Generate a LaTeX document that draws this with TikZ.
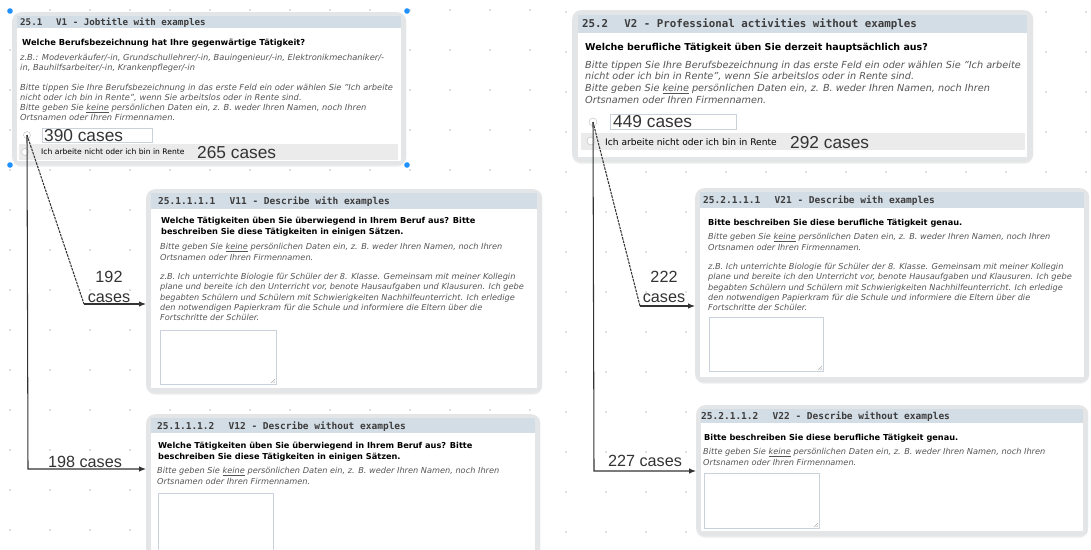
\documentclass[tikz,border=0pt]{standalone}
\usepackage{fontspec}
\setmainfont{DejaVu Sans}
\setmonofont{DejaVu Sans Mono}
\newfontfamily\cntfont{Liberation Sans}
\usetikzlibrary{arrows.meta,positioning,calc,shadows}
\definecolor{framegray}{HTML}{E3E5E7}
\definecolor{headblue}{HTML}{D3DDE6}
\definecolor{headtext}{HTML}{3C3C3C}
\definecolor{notegray}{HTML}{555555}
\definecolor{rowgray}{HTML}{EBEBEB}
\definecolor{dotgray}{HTML}{C2C2C2}
\definecolor{selblue}{HTML}{1E90FF}
\definecolor{fieldline}{HTML}{C9D2DA}
\definecolor{cnttext}{HTML}{333333}

\begin{document}
\begin{tikzpicture}[x=1pt,y=-1pt,
    frame/.style={fill=framegray, rounded corners=9pt, inner sep=0pt, anchor=north west,
      drop shadow={shadow xshift=0pt, shadow yshift=-1.5pt, opacity=0.15}},
    head/.style={font=\ttfamily\bfseries\fontsize{9.5}{11}\selectfont, text=headtext, anchor=base west, inner sep=0pt},
    ques/.style={font=\bfseries\fontsize{8.2}{11.5}\selectfont, anchor=base west, inner sep=0pt, align=left},
    note/.style={font=\itshape\fontsize{8.2}{10.3}\selectfont, text=notegray, anchor=north west, inner sep=0pt, align=left},
    radio/.style={circle, draw=gray!55, fill=white, minimum size=7pt, inner sep=0pt},
    cnt/.style={font=\cntfont\fontsize{17.3}{17}\selectfont, text=cnttext, anchor=west, inner sep=0pt},
    small/.style={font=\fontsize{7.6}{9}\selectfont, anchor=west, inner sep=0pt},
    lbl/.style={font=\cntfont\fontsize{16.2}{19.5}\selectfont, text=cnttext, inner sep=0pt},
    link/.style={draw=black!80, line width=1.05pt}]
    \useasboundingbox (0,0) rectangle (1091,549);
    \clip (0,0) rectangle (1091,549);
    \fill[white] (0,0) rectangle (1091,549);

    % dot grid
    \foreach \gx in {10,50,...,530}
        \foreach \gy in {10,50,...,530}
            \fill[dotgray] (\gx,\gy) circle (0.8pt);
    \foreach \gx in {566,606,...,1086}
        \foreach \gy in {12,52,...,532}
            \fill[dotgray] (\gx,\gy) circle (0.8pt);

    % V1
    \node[frame, minimum width=394pt, minimum height=153pt] (v1) at (12,12) {};
    \fill[white] ($(v1.north west)+(5,16)$) rectangle ($(v1.south east)+(-5,-4)$);
    \fill[headblue] ($(v1.north west)+(5,3.5)$) rectangle ($(v1.north east)+(-5,16)$);
    \node[head, font=\ttfamily\bfseries\fontsize{9.2}{11}\selectfont] (h1) at (20,25) {25.1\hspace{1.5em}V1 - Jobtitle with examples};
    \node[ques, font=\bfseries\fontsize{8.3}{11}\selectfont] (q1) at (22,45) {Welche Berufsbezeichnung hat Ihre gegenwärtige Tätigkeit?};
    \node[note, font=\itshape\fontsize{8.3}{10}\selectfont] (n1) at (20,53.7) {z.B.: Modeverkäufer/-in, Grundschullehrer/-in, Bauingenieur/-in, Elektronikmechaniker/-\\
        in, Bauhilfsarbeiter/-in, Krankenpfleger/-in\\[10pt]
        Bitte tippen Sie Ihre Berufsbezeichnung in das erste Feld ein oder wählen Sie "Ich arbeite\\
        nicht oder ich bin in Rente", wenn Sie arbeitslos oder in Rente sind.\\
        Bitte geben Sie \underline{keine} persönlichen Daten ein, z. B. weder Ihren Namen, noch Ihren\\
        Ortsnamen oder Ihren Firmennamen.};
    \draw[fieldline, fill=white] (42,128) rectangle (152,142);
    \node[cnt] (c1a) at (44,135.5) {390 cases};
    \fill[rowgray] (19,144) rectangle (398,160);
    \node[radio] (r1a) at (27,135) {};
    \node[radio] (r1b) at (25,152) {};
    \node[small] (o1) at (41,152) {Ich arbeite nicht oder ich bin in Rente};
    \node[cnt] (c1b) at (197,153) {265 cases};
    \foreach \sx/\sy in {10/11, 407/11, 10/165, 407/165}
        \fill[selblue] (\sx,\sy) circle (2.8pt);

    % V2
    \node[frame, minimum width=461pt, minimum height=152pt] (v2) at (572,10) {};
    \fill[white] ($(v2.north west)+(6,23)$) rectangle ($(v2.south east)+(-6,-5)$);
    \fill[headblue] ($(v2.north west)+(6,5)$) rectangle ($(v2.north east)+(-6,23)$);
    \node[head, font=\ttfamily\bfseries\fontsize{10.8}{12}\selectfont] (h2) at (582,27) {25.2\hspace{1.5em}V2 - Professional activities without examples};
    \node[ques, font=\bfseries\fontsize{9.5}{12}\selectfont] (q2) at (585,50) {Welche berufliche Tätigkeit üben Sie derzeit hauptsächlich aus?};
    \node[note, font=\itshape\fontsize{9.7}{11.8}\selectfont] (n2) at (585,60.6) {Bitte tippen Sie Ihre Berufsbezeichnung in das erste Feld ein oder wählen Sie "Ich arbeite\\
        nicht oder ich bin in Rente", wenn Sie arbeitslos oder in Rente sind.\\
        Bitte geben Sie \underline{keine} persönlichen Daten ein, z. B. weder Ihren Namen, noch Ihren\\
        Ortsnamen oder Ihren Firmennamen.};
    \draw[fieldline, fill=white] (610,114) rectangle (736,129);
    \node[cnt] (c2a) at (613,122) {449 cases};
    \fill[rowgray] (581,133) rectangle (1025,150);
    \node[radio, minimum size=8pt] (r2a) at (593,122) {};
    \node[radio, minimum size=8pt] (r2b) at (591,141) {};
    \node[small, font=\fontsize{9.1}{10}\selectfont] (o2) at (605,142) {Ich arbeite nicht oder ich bin in Rente};
    \node[cnt] (c2b) at (790,143) {292 cases};

    % V11
    \node[frame, minimum width=396pt, minimum height=204pt] (v11) at (146,189) {};
    \fill[white] ($(v11.north west)+(5,20)$) rectangle ($(v11.south east)+(-5,-5)$);
    \fill[headblue] ($(v11.north west)+(5,4)$) rectangle ($(v11.north east)+(-5,20)$);
    \node[head] (h11) at (158,204) {25.1.1.1.1\hspace{1.5em}V11 - Describe with examples};
    \node[ques, anchor=north west, font=\bfseries\fontsize{8.2}{11.7}\selectfont] (q11) at (161,216.5) {Welche Tätigkeiten üben Sie überwiegend in Ihrem Beruf aus? Bitte\\
        beschreiben Sie diese Tätigkeiten in einigen Sätzen.};
    \node[note] (n11) at (160,243.5) {Bitte geben Sie \underline{keine} persönlichen Daten ein, z. B. weder Ihren Namen, noch Ihren\\
        Ortsnamen oder Ihren Firmennamen.\\[9pt]
        z.B. Ich unterrichte Biologie für Schüler der 8. Klasse. Gemeinsam mit meiner Kollegin\\
        plane und bereite ich den Unterricht vor, benote Hausaufgaben und Klausuren. Ich gebe\\
        begabten Schülern und Schülern mit Schwierigkeiten Nachhilfeunterricht. Ich erledige\\
        den notwendigen Papierkram für die Schule und informiere die Eltern über die\\
        Fortschritte der Schüler.};
    \draw[fieldline, fill=white] (160,330) rectangle (276,384);
    \draw[gray!60, line width=0.4pt] (271,383) -- (275,379) (273.5,383) -- (275,381.5);

    % V12
    \node[frame, minimum width=394pt, minimum height=170pt] (v12) at (146,414) {};
    \fill[white] ($(v12.north west)+(5,19)$) rectangle ($(v12.south east)+(-5,-5)$);
    \fill[headblue] ($(v12.north west)+(5,4)$) rectangle ($(v12.north east)+(-5,19)$);
    \node[head] (h12) at (157,429) {25.1.1.1.2\hspace{1.5em}V12 - Describe without examples};
    \node[ques, anchor=north west, font=\bfseries\fontsize{8.2}{11}\selectfont] (q12) at (158,441.5) {Welche Tätigkeiten üben Sie überwiegend in Ihrem Beruf aus? Bitte\\
        beschreiben Sie diese Tätigkeiten in einigen Sätzen.};
    \node[note] (n12) at (157,467.5) {Bitte geben Sie \underline{keine} persönlichen Daten ein, z. B. weder Ihren Namen, noch Ihren\\
        Ortsnamen oder Ihren Firmennamen.};
    \draw[fieldline, fill=white] (158,493) rectangle (273,560);

    % V21
    \node[frame, minimum width=394pt, minimum height=194pt] (v21) at (695,188) {};
    \fill[white] ($(v21.north west)+(5,20)$) rectangle ($(v21.south east)+(-5,-5)$);
    \fill[headblue] ($(v21.north west)+(5,4)$) rectangle ($(v21.north east)+(-5,20)$);
    \node[head] (h21) at (703,203) {25.2.1.1.1\hspace{1.5em}V21 - Describe with examples};
    \node[ques] (q21) at (708,225) {Bitte beschreiben Sie diese berufliche Tätigkeit genau.};
    \node[note] (n21) at (708,233.5) {Bitte geben Sie \underline{keine} persönlichen Daten ein, z. B. weder Ihren Namen, noch Ihren\\
        Ortsnamen oder Ihren Firmennamen.\\[9pt]
        z.B. Ich unterrichte Biologie für Schüler der 8. Klasse. Gemeinsam mit meiner Kollegin\\
        plane und bereite ich den Unterricht vor, benote Hausaufgaben und Klausuren. Ich gebe\\
        begabten Schülern und Schülern mit Schwierigkeiten Nachhilfeunterricht. Ich erledige\\
        den notwendigen Papierkram für die Schule und informiere die Eltern über die\\
        Fortschritte der Schüler.};
    \draw[fieldline, fill=white] (709,317) rectangle (823,371);
    \draw[gray!60, line width=0.4pt] (818,370) -- (822,366) (820.5,370) -- (822,368.5);

    % V22
    \node[frame, minimum width=392pt, minimum height=131pt] (v22) at (696,405) {};
    \fill[white] ($(v22.north west)+(5,18)$) rectangle ($(v22.south east)+(-5,-5)$);
    \fill[headblue] ($(v22.north west)+(5,3.5)$) rectangle ($(v22.north east)+(-5,18)$);
    \node[head] (h22) at (701,419) {25.2.1.1.2\hspace{1.5em}V22 - Describe without examples};
    \node[ques] (q22) at (704,440) {Bitte beschreiben Sie diese berufliche Tätigkeit genau.};
    \node[note] (n22) at (703,448.5) {Bitte geben Sie \underline{keine} persönlichen Daten ein, z. B. weder Ihren Namen, noch Ihren\\
        Ortsnamen oder Ihren Firmennamen.};
    \draw[fieldline, fill=white] (704,473) rectangle (819,528);
    \draw[gray!60, line width=0.4pt] (814,527) -- (818,523) (816.5,527) -- (818,525.5);

    % split arrows
    \coordinate (b11) at (84,304);
    \coordinate (b12) at (28,469);
    \coordinate (b21) at (640,306);
    \coordinate (b22) at (594,471);
    \draw[link, dash pattern=on 2.6pt off 1pt] (r1a.center) -- (b11);
    \draw[link, -{Latex[length=7pt,width=5.5pt]}] (b11) -- (b11 -| v11.west);
    \draw[link, -{Latex[length=7pt,width=5.5pt]}] (r1a.center) -- (b12) -- (b12 -| v12.west);
    \draw[link, dash pattern=on 2.6pt off 1pt] (r2a.center) -- (b21);
    \draw[link, -{Latex[length=7pt,width=5.5pt]}] (b21) -- (b21 -| v21.west);
    \draw[link, -{Latex[length=7pt,width=5.5pt]}] (r2a.center) -- (b22) -- (b22 -| v22.west);
    \node[lbl, align=center] (l11) at (109,287) {192\\cases};
    \node[lbl] (l12) at (85,462) {198 cases};
    \node[lbl, align=center] (l21) at (664,287) {222\\cases};
    \node[lbl] (l22) at (645,461) {227 cases};
\end{tikzpicture}
\end{document}
